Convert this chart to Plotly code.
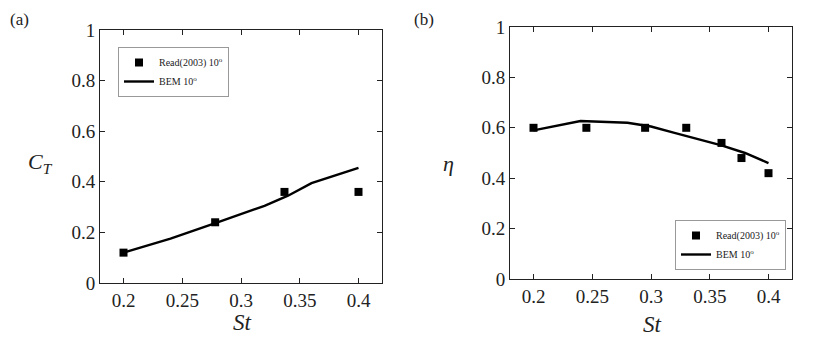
import plotly.graph_objs as go
from plotly.subplots import make_subplots

# (a) thrust coefficient
ct_read_st = [0.2, 0.278, 0.337, 0.4]
ct_read = [0.12, 0.24, 0.36, 0.36]
ct_bem_st = [0.2, 0.24, 0.28, 0.32, 0.34, 0.36, 0.4]
ct_bem = [0.12, 0.175, 0.24, 0.305, 0.345, 0.395, 0.455]

# (b) efficiency
eta_read_st = [0.2, 0.245, 0.295, 0.33, 0.36, 0.377, 0.4]
eta_read = [0.6, 0.6, 0.6, 0.6, 0.54, 0.48, 0.42]
eta_bem_st = [0.2, 0.24, 0.28, 0.3, 0.32, 0.36, 0.38, 0.4]
eta_bem = [0.59, 0.627, 0.62, 0.605, 0.58, 0.53, 0.50, 0.46]

x_ticks = [0.2, 0.25, 0.3, 0.35, 0.4]
x_labels = ["0.2", "0.25", "0.3", "0.35", "0.4"]
y_ticks = [0, 0.2, 0.4, 0.6, 0.8, 1]
y_labels = ["0", "0.2", "0.4", "0.6", "0.8", "1"]

FONT = "Liberation Serif, Times New Roman, serif"
W, H = 814, 338
OFF = 8  # page body margin


def px(x):
    return (x - OFF) / W


def py(y):
    return 1 - (y - OFF) / H


fig = make_subplots(rows=1, cols=2)

fig.add_trace(go.Scatter(x=ct_read_st, y=ct_read, mode='markers',
                         marker=dict(symbol='square', size=8, color='black'),
                         name='Read(2003) 10<sup>o</sup>', legend='legend'), row=1, col=1)
fig.add_trace(go.Scatter(x=ct_bem_st, y=ct_bem, mode='lines',
                         line=dict(color='black', width=2.4),
                         name='BEM 10<sup>o</sup>', legend='legend'), row=1, col=1)
fig.add_trace(go.Scatter(x=eta_read_st, y=eta_read, mode='markers',
                         marker=dict(symbol='square', size=8, color='black'),
                         name='Read(2003) 10<sup>o</sup>', legend='legend2'), row=1, col=2)
fig.add_trace(go.Scatter(x=eta_bem_st, y=eta_bem, mode='lines',
                         line=dict(color='black', width=2.4),
                         name='BEM 10<sup>o</sup>', legend='legend2'), row=1, col=2)

axis_style = dict(showline=True, linecolor='#222', linewidth=1, mirror='ticks',
                  ticks='inside', ticklen=5, tickcolor='#222', showgrid=False,
                  zeroline=False, automargin=False,
                  tickfont=dict(family=FONT, size=19, color='#222'))

fig.update_xaxes(range=[0.18, 0.42], tickvals=x_ticks, ticktext=x_labels, **axis_style)
fig.update_yaxes(range=[0, 1], tickvals=y_ticks, ticktext=y_labels, **axis_style)

fig.update_xaxes(domain=[px(100), px(382)], row=1, col=1)
fig.update_xaxes(domain=[px(510), px(792)], row=1, col=2)
fig.update_yaxes(domain=[py(283), py(30)], row=1, col=1)
fig.update_yaxes(domain=[py(279), py(27)], row=1, col=2)

legend_style = dict(font=dict(family=FONT, size=10, color='#222'), bgcolor='white',
                    bordercolor='#999', borderwidth=1, tracegroupgap=0,
                    xanchor='left', yanchor='middle', itemwidth=30)


def label(text, x, y, size, xanchor='center', yanchor='middle'):
    return dict(text=text, x=x, y=y, xref='paper', yref='paper', showarrow=False,
                xanchor=xanchor, yanchor=yanchor,
                font=dict(family=FONT, size=size, color='#222'))


fig.update_layout(
    width=W, height=H,
    font=dict(family=FONT, color='#222'),
    margin=dict(l=0, r=0, t=0, b=0, autoexpand=False),
    paper_bgcolor='white', plot_bgcolor='white',
    legend=dict(x=px(118), y=py(72), **legend_style),
    legend2=dict(x=px(675), y=py(245), **legend_style),
    annotations=[
        label("(a)", 0, 1, 17, xanchor='left', yanchor='top'),
        label("(b)", px(412), 1, 17, xanchor='left', yanchor='top'),
        label("<i>C<sub>T</sub></i>", px(40), py(163), 22),
        label("<i>η</i>", px(448), py(163), 22),
        label("<i>St</i>", px(243), py(322), 23),
        label("<i>St</i>", px(652), py(324), 23),
    ],
)

fig.write_html("out.html")
